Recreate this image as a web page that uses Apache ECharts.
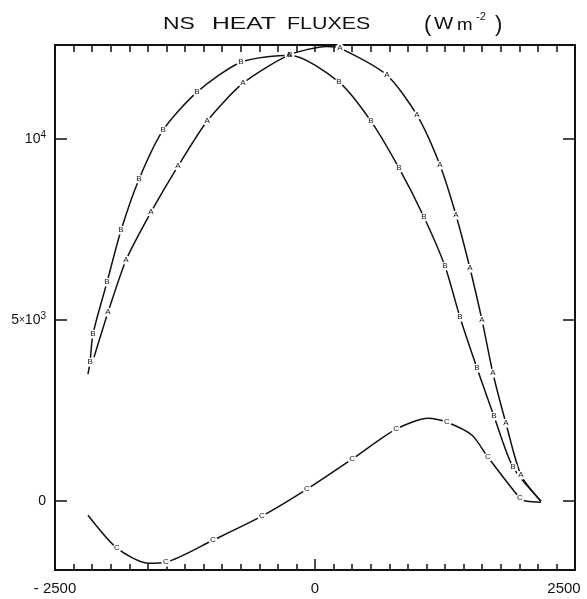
<!DOCTYPE html>
<html>
<head>
<meta charset="utf-8">
<script src="https://cdn.jsdelivr.net/npm/echarts@6/dist/echarts.min.js"></script>
<style>
html,body{margin:0;padding:0;background:#fff;}
#chart{width:587px;height:599px;}
</style>
</head>
<body>
<div id="chart"></div>
<script>
// ---- data ----
var A_x = [-2125,-1990,-1817,-1577,-1317,-1038,-692,-250,115,240,692,981,1202,1356,1490,1606,1711,1836,1981,2173];
var A_y = [3977,5220,6656,7982,9253,10496,11545,12319,12560,12512,11766,10661,9280,7899,6435,4999,3535,2154,718,0];
var A_unmarked = [0,8,19];

var B_x = [-2183,-2163,-2135,-2000,-1865,-1692,-1461,-1135,-712,-240,231,538,808,1048,1250,1394,1558,1721,1904,2173];
var B_y = [3508,3839,4613,6049,7485,8894,10247,11297,12125,12319,11573,10496,9197,7844,6491,5082,3673,2348,939,0];
var B_unmarked = [0,19];

var C_x = [-2183,-1904,-1606,-1433,-981,-510,-77,356,779,1087,1269,1510,1663,1971,2038,2173];
var C_y = [-387,-1298,-1712,-1685,-1077,-414,331,1160,1989,2292,2182,1823,1215,83,0,-28];
var C_unmarked = [0,2,9,11,14,15];

var xLabelValues = [-2500, 0, 2500];
var yLabelValues = [0, 5000, 10000];
var xMin = -2500, xMax = 2500, yMin = -1900, yMax = 12600;
var xTickCount = 28;

var xTicks = [];
for (var i = 0; i <= xTickCount; i++) xTicks.push(xMin + i * (xMax - xMin) / xTickCount);

function mkData(xs, ys, unmarked) {
  return xs.map(function (v, i) {
    var u = unmarked.indexOf(i) >= 0;
    return u ? { value: [v, ys[i]], symbol: 'none', label: { show: false } }
             : { value: [v, ys[i]] };
  });
}

function mkSeries(name, letter, xs, ys, unmarked) {
  return {
    name: name, type: 'line', xAxisIndex: 0, yAxisIndex: 0,
    data: mkData(xs, ys, unmarked),
    smooth: 0.25,
    showSymbol: true, showAllSymbol: true,
    symbol: 'circle', symbolSize: 9,
    itemStyle: { color: '#fff', borderWidth: 0 },
    lineStyle: { color: '#111', width: 1.5 },
    label: { show: true, position: 'inside', formatter: letter, fontSize: 8,
             fontFamily: 'Liberation Sans', color: '#111' },
    emphasis: { disabled: true },
    z: 3
  };
}

var FONT = 'Liberation Sans';
var chart = echarts.init(document.getElementById('chart'), null, { renderer: 'canvas' });
chart.setOption({
  animation: false,
  backgroundColor: '#fff',
  grid: { left: 55, right: 12, top: 45, bottom: 29, containLabel: false },
  graphic: [
    { type: 'text', x: 163, y: 24, scaleX: 1.35, style: { text: 'NS', font: '17px ' + FONT, fill: '#111', verticalAlign: 'middle' } },
    { type: 'text', x: 212, y: 24, scaleX: 1.45, style: { text: 'HEAT', font: '17px ' + FONT, fill: '#111', verticalAlign: 'middle' } },
    { type: 'text', x: 287, y: 24, scaleX: 1.26, style: { text: 'FLUXES', font: '17px ' + FONT, fill: '#111', verticalAlign: 'middle' } },
    { type: 'text', x: 424, y: 25, style: { text: '(', font: '22px ' + FONT, fill: '#111', verticalAlign: 'middle' } },
    { type: 'text', x: 434, y: 24, scaleX: 1.2, style: { text: 'W', font: '17px ' + FONT, fill: '#111', verticalAlign: 'middle' } },
    { type: 'text', x: 457, y: 25, scaleX: 1.1, style: { text: 'm', font: '17px ' + FONT, fill: '#111', verticalAlign: 'middle' } },
    { type: 'text', x: 476, y: 17, style: { text: '-2', font: '11px ' + FONT, fill: '#111', verticalAlign: 'middle' } },
    { type: 'text', x: 495, y: 25, style: { text: ')', font: '22px ' + FONT, fill: '#111', verticalAlign: 'middle' } }
  ],
  xAxis: [
    {
      type: 'value', position: 'bottom', min: xMin, max: xMax,
      axisLine: { show: true, onZero: false, lineStyle: { color: '#111', width: 2 } },
      axisTick: { show: true, inside: true, length: 6, customValues: xTicks, lineStyle: { color: '#111', width: 1.5 } },
      axisLabel: {
        show: true, margin: 11, customValues: xLabelValues,
        formatter: function (v) { return v === xMax ? '{r|' + v + '}' : (v < 0 ? '- ' + Math.abs(v) : '' + v); },
        fontFamily: FONT, fontSize: 15, color: '#111',
        rich: { r: { fontFamily: FONT, fontSize: 15, color: '#111', padding: [0, 22, 0, 0] } }
      },
      splitLine: { show: false }
    },
    {
      type: 'value', position: 'bottom', min: xMin, max: xMax,
      axisLine: { show: false, onZero: false },
      axisTick: { show: true, inside: true, length: 11, customValues: [0], lineStyle: { color: '#111', width: 1.5 } },
      axisLabel: { show: false }, splitLine: { show: false }
    },
    {
      type: 'value', position: 'top', min: xMin, max: xMax,
      axisLine: { show: true, onZero: false, lineStyle: { color: '#111', width: 2 } },
      axisTick: { show: true, inside: true, length: 7, customValues: xTicks, lineStyle: { color: '#111', width: 1.5 } },
      axisLabel: { show: false }, splitLine: { show: false }
    }
  ],
  yAxis: [
    {
      type: 'value', position: 'left', min: yMin, max: yMax,
      axisLine: { show: true, onZero: false, lineStyle: { color: '#111', width: 2 } },
      axisTick: { show: true, inside: true, length: 12, customValues: yLabelValues, lineStyle: { color: '#111', width: 1.5 } },
      axisLabel: {
        show: true, margin: 9, customValues: yLabelValues,
        formatter: function (v) {
          if (v === 10000) return '{b|10}{s|4}';
          if (v === 5000) return '{b|5}{x|×}{b|10}{s|3}';
          return '{b|0}';
        },
        rich: {
          b: { fontFamily: FONT, fontSize: 14, color: '#111', lineHeight: 18 },
          x: { fontFamily: FONT, fontSize: 10, color: '#111', lineHeight: 18 },
          s: { fontFamily: FONT, fontSize: 10, color: '#111', verticalAlign: 'top', lineHeight: 18 }
        }
      },
      splitLine: { show: false }
    },
    {
      type: 'value', position: 'right', min: yMin, max: yMax,
      axisLine: { show: true, onZero: false, lineStyle: { color: '#111', width: 2 } },
      axisTick: { show: true, inside: true, length: 12, customValues: yLabelValues, lineStyle: { color: '#111', width: 1.5 } },
      axisLabel: { show: false }, splitLine: { show: false }
    }
  ],
  series: [
    mkSeries('A', 'A', A_x, A_y, A_unmarked),
    mkSeries('B', 'B', B_x, B_y, B_unmarked),
    mkSeries('C', 'C', C_x, C_y, C_unmarked)
  ]
});
</script>
</body>
</html>
